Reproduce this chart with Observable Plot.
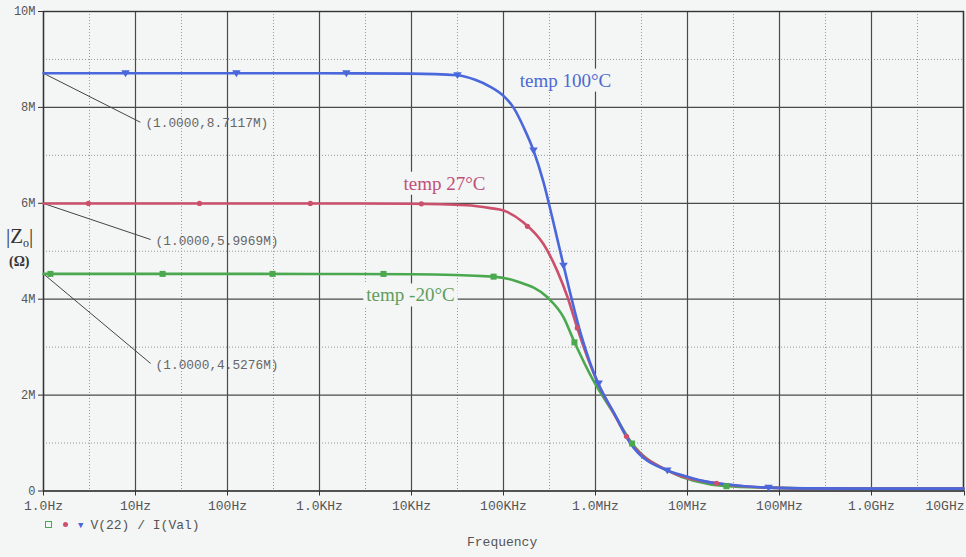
<!DOCTYPE html>
<html>
<head>
<meta charset="utf-8">
<script src="https://cdn.jsdelivr.net/npm/d3@7"></script>
<script src="https://cdn.jsdelivr.net/npm/@observablehq/plot@0.6"></script>
<style>
  body { margin: 0; background: #f4f5f5; }
  #chart { position: relative; width: 966px; height: 557px; }
  .mono { font-family: "Liberation Mono", monospace; color: #555; }
  .abs { position: absolute; white-space: nowrap; }
</style>
</head>
<body>
<div id="chart"></div>
<script>
// Output impedance |Zo| of V(22)/I(Val) vs frequency, three temperatures.
// Frequencies in Hz, impedances in ohms.
const freq100 = [1, 10, 100, 1e3, 1e4, 3.16e4, 5e4, 7.2e4, 1.0e5, 1.29e5, 1.66e5, 2.12e5, 2.72e5, 3.41e5, 4.5e5, 6.87e5, 1.07e6, 1.6e6, 2.4e6, 6.0e6, 8.4e6, 1.76e7, 2.1e7, 7.4e7, 2e8, 1e9, 1e10];
const zo100   = [8.7117e6, 8.711e6, 8.711e6, 8.711e6, 8.705e6, 8.67e6, 8.57e6, 8.43e6, 8.24e6, 7.99e6, 7.58e6, 7.1e6, 6.44e6, 5.68e6, 4.7e6, 3.3e6, 2.24e6, 1.62e6, 0.99e6, 0.43e6, 0.34e6, 0.18e6, 0.16e6, 0.07e6, 0.055e6, 0.05e6, 0.05e6];

const freq27 = [1, 1e3, 1e4, 4e4, 7.2e4, 1.0e5, 1.65e5, 2.72e5, 3.86e5, 4.97e5, 6.34e5, 8.83e5, 1.07e6, 1.6e6, 2.2e6, 6.0e6, 2.07e7, 7.4e7, 2e8, 1e10];
const zo27   = [5.9969e6, 5.996e6, 5.99e6, 5.96e6, 5.9e6, 5.85e6, 5.6e6, 5.15e6, 4.58e6, 4.04e6, 3.4e6, 2.62e6, 2.24e6, 1.6e6, 1.12e6, 0.43e6, 0.16e6, 0.07e6, 0.055e6, 0.05e6];

const freqM20 = [1, 1e3, 1e4, 7.8e4, 1.41e5, 3.0e5, 4.5e5, 5.8e5, 9.5e5, 1.6e6, 2.5e6, 6.0e6, 2.65e7, 7.4e7, 2e8, 1e10];
const zoM20   = [4.5276e6, 4.527e6, 4.52e6, 4.47e6, 4.37e6, 4.04e6, 3.62e6, 3.14e6, 2.3e6, 1.6e6, 0.99e6, 0.43e6, 0.1e6, 0.07e6, 0.055e6, 0.05e6];

// Marker positions along each trace
const mark100F = [7.8, 125, 1960, 3.16e4, 2.12e5, 4.49e5, 1.08e6, 6.03e6, 7.6e7];
const mark100Z = [8.711e6, 8.711e6, 8.711e6, 8.67e6, 7.1e6, 4.7e6, 2.24e6, 0.43e6, 0.07e6];
const mark27F  = [3.08, 49.6, 795, 1.28e4, 1.82e5, 6.34e5, 2.17e6, 2.07e7];
const mark27Z  = [5.9969e6, 5.9969e6, 5.9969e6, 5.99e6, 5.52e6, 3.4e6, 1.14e6, 0.16e6];
const markM20F = [1.19, 19.7, 309, 4960, 7.8e4, 5.9e5, 2.5e6, 2.65e7];
const markM20Z = [4.5276e6, 4.5276e6, 4.5276e6, 4.527e6, 4.47e6, 3.1e6, 0.99e6, 0.1e6];

// Cursor readouts at 1 Hz
const cursorText = ["(1.0000,8.7117M)", "(1.0000,5.9969M)", "(1.0000,4.5276M)"];
const cursorZ    = [8.7117e6, 5.9969e6, 4.5276e6];
const cursorTagF = [11.3, 14.6, 14.6];
const cursorTagZ = [7.69e6, 5.245e6, 2.66e6];

// Trace labels
const traceNames = ["temp 100\u00b0C", "temp 27\u00b0C", "temp -20\u00b0C"];
const traceTagF  = [4.72e5, 2.28e4, 9.75e3];
const traceTagZ  = [8.56e6, 6.41e6, 4.08e6];

// Axes
const xTicks = [1, 10, 100, 1e3, 1e4, 1e5, 1e6, 1e7, 1e8, 1e9, 1e10];
const xTickLabels = ["1.0Hz", "10Hz", "100Hz", "1.0KHz", "10KHz", "100KHz", "1.0MHz", "10MHz", "100MHz", "1.0GHz", "10GHz"];
const yTicks = [0, 2e6, 4e6, 6e6, 8e6, 10e6];
const yTickLabels = ["0", "2M", "4M", "6M", "8M", "10M"];
const xMinor = xTicks.slice(0, -1).map(d => d * Math.sqrt(10));
const yMinor = [1e6, 3e6, 5e6, 7e6, 9e6];

const colors = { hot: "#4a68dc", room: "#cc4f6c", cold: "#4aa84e" };
const textColors = { hot: "#4a6ad2", room: "#c0507a", cold: "#5e9e5e" };
const bg = "#f4f5f5";

const pts = (fs, zs) => fs.map((f, i) => ({ f, z: zs[i] }));
const xLab = new Map(xTicks.map((d, i) => [d, xTickLabels[i]]));
const yLab = new Map(yTicks.map((d, i) => [d, yTickLabels[i]]));

const triDown = {
  draw(ctx, size) {
    const r = Math.sqrt(size / 2);
    ctx.moveTo(-r, -r * 0.7);
    ctx.lineTo(r, -r * 0.7);
    ctx.lineTo(0, r * 0.9);
    ctx.closePath();
  }
};

const cursors = cursorText.map((t, i) => ({ t, z: cursorZ[i], f2: cursorTagF[i], z2: cursorTagZ[i] }));
const traces = traceNames.map((t, i) => ({ t, f: traceTagF[i], z: traceTagZ[i], c: Object.values(textColors)[i] }));

const axisText = { tickSize: 5, tickPadding: 5, label: null, fontSize: 13, fontFamily: "Liberation Mono, monospace", stroke: "#333", fill: "#555", tickFormat: d => xLab.get(d) };

const chart = Plot.plot({
  width: 966,
  height: 557,
  marginLeft: 43,
  marginRight: 3,
  marginTop: 11,
  marginBottom: 66.5,
  style: { background: bg, fontFamily: "Liberation Mono, monospace" },
  x: { type: "log", domain: [1, 1e10] },
  y: { domain: [0, 10e6] },
  marks: [
    Plot.ruleX(xMinor, { stroke: "#999", strokeWidth: 1, strokeDasharray: "1,2" }),
    Plot.ruleY(yMinor, { stroke: "#999", strokeWidth: 1, strokeDasharray: "1,2" }),
    Plot.ruleX(xTicks, { stroke: "#4a4a4a", strokeWidth: 1.2 }),
    Plot.ruleY(yTicks, { stroke: "#4a4a4a", strokeWidth: 1.2 }),
    Plot.frame({ stroke: "#333", strokeWidth: 1.4 }),
    Plot.axisX(xTicks.slice(0, -1), axisText),
    Plot.axisX(xTicks.slice(-1), { ...axisText, textAnchor: "end", dx: 1 }),
    Plot.axisY(yTicks, {
      tickFormat: d => yLab.get(d), tickSize: 5, tickPadding: 3, label: null,
      fontSize: 12, fontFamily: "Liberation Mono, monospace", stroke: "#333", fill: "#555"
    }),
    // cursor leader lines and readouts
    Plot.link(cursors, { x1: () => 1, y1: "z", x2: "f2", y2: "z2", stroke: "#444", strokeWidth: 1 }),
    Plot.text(cursors, { x: "f2", y: "z2", text: "t", textAnchor: "start", dx: 5, dy: 1, fontSize: 12.8, fill: "#666" }),
    // trace labels
    Plot.text(traces, {
      x: "f", y: "z", text: "t", fill: "c", fontSize: 19,
      fontFamily: "Liberation Serif, serif"
    }),
    // traces
    Plot.line(pts(freqM20, zoM20), { x: "f", y: "z", stroke: colors.cold, strokeWidth: 2.6, curve: "monotone-x" }),
    Plot.line(pts(freq27, zo27), { x: "f", y: "z", stroke: colors.room, strokeWidth: 2.6, curve: "monotone-x" }),
    Plot.line(pts(freq100, zo100), { x: "f", y: "z", stroke: colors.hot, strokeWidth: 2.6, curve: "monotone-x" }),
    Plot.dot(pts(markM20F, markM20Z), { x: "f", y: "z", symbol: "square", r: 3.4, fill: colors.cold }),
    Plot.dot(pts(mark27F, mark27Z), { x: "f", y: "z", symbol: "circle", r: 2.6, fill: colors.room }),
    Plot.dot(pts(mark100F, mark100Z), { x: "f", y: "z", symbol: triDown, r: 3.4, fill: colors.hot })
  ]
});

const root = document.getElementById("chart");
root.appendChild(chart);

// opaque boxes behind the trace labels so the grid stops around them
for (const t of chart.querySelectorAll("text")) {
  if (!t.textContent.startsWith("temp ")) continue;
  const b = t.getBBox();
  const r = document.createElementNS("http://www.w3.org/2000/svg", "rect");
  r.setAttribute("x", b.x - 3);
  r.setAttribute("y", b.y - 1);
  r.setAttribute("width", b.width + 6);
  r.setAttribute("height", b.height + 2);
  r.setAttribute("fill", bg);
  const tr = t.getAttribute("transform");
  if (tr) r.setAttribute("transform", tr);
  t.parentNode.insertBefore(r, t);
}

// y-axis title
const ylab = document.createElement("div");
ylab.className = "abs";
ylab.style.cssText = "left:6px;top:224px;font-family:'Liberation Serif',serif;font-size:21px;color:#333;";
ylab.innerHTML = "|Z<span style='font-size:12px;vertical-align:-4px'>o</span>|";
root.appendChild(ylab);
const yunit = document.createElement("div");
yunit.className = "abs";
yunit.style.cssText = "left:9px;top:254px;font-family:'Liberation Serif',serif;font-size:14px;font-weight:bold;color:#333;";
yunit.textContent = "(\u03a9)";
root.appendChild(yunit);

// trace legend
const legend = document.createElement("div");
legend.className = "abs mono";
legend.style.cssText = "left:45px;top:518px;font-size:13px;";
legend.innerHTML =
  "<span style='display:inline-block;width:5px;height:5px;border:1px solid " + colors.cold + ";margin-right:11px;vertical-align:1px'></span>" +
  "<span style='display:inline-block;width:5px;height:5px;border-radius:50%;background:" + colors.room + ";margin-right:10px;vertical-align:2px'></span>" +
  "<span style='color:" + colors.hot + ";font-size:9px;margin-right:7px;vertical-align:1px'>\u25bc</span>V(22) / I(Val)";
root.appendChild(legend);

// x-axis title
const xtitle = document.createElement("div");
xtitle.className = "abs mono";
xtitle.style.cssText = "left:467px;top:535px;font-size:13px;";
xtitle.textContent = "Frequency";
root.appendChild(xtitle);
</script>
</body>
</html>
